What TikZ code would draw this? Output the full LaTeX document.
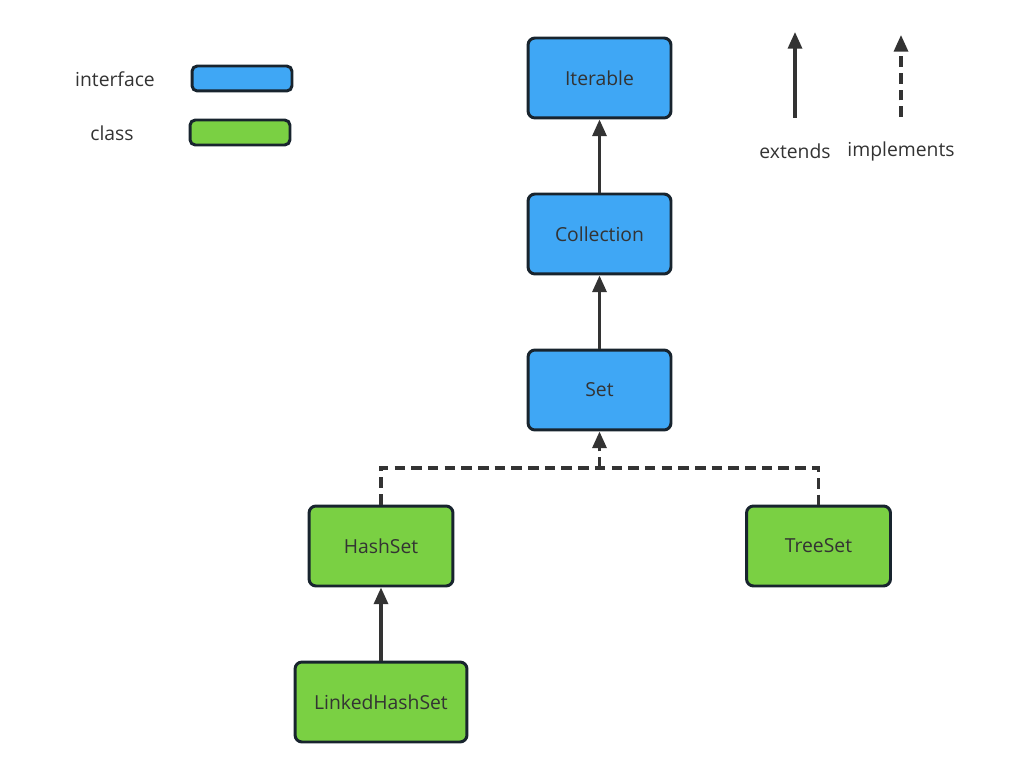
\documentclass[tikz,border=0pt]{standalone}
\usepackage{fontspec}
\setmainfont{Open Sans}
\usepackage{tikz}
\usetikzlibrary{arrows.meta}

\definecolor{ifblue}{HTML}{3FA7F5}
\definecolor{clgreen}{HTML}{7AD043}
\definecolor{edge}{HTML}{18242E}
\definecolor{linec}{HTML}{333333}

\begin{document}
\begin{tikzpicture}[x=0.02cm,y=-0.02cm,
  box/.style={draw=edge, line width=1.7pt, rounded corners=4pt, minimum height=1.6cm,
    font=\fontsize{11}{13}\selectfont, text=linec},
  iface/.style={box, fill=ifblue, minimum width=2.86cm},
  klass/.style={box, fill=clgreen, minimum width=2.88cm},
  legbox/.style={draw=edge, line width=1.7pt, rounded corners=3pt, minimum width=2cm, minimum height=0.5cm},
  ext/.style={draw=linec, line width=1.8pt, -{Triangle[length=9.5pt,width=8pt]}},
  impl/.style={ext, dash pattern=on 6pt off 3.5pt},
  lbl/.style={font=\fontsize{11}{13}\selectfont, text=linec}]
\useasboundingbox (0,0) rectangle (1014,780);
% legend
\node[lbl] (lif) at (115,79) {interface};
\node[legbox, fill=ifblue] (kif) at (242,78.5) {};
\node[lbl] (lcl) at (112,133) {class};
\node[legbox, fill=clgreen] (kcl) at (240,132.5) {};
\coordinate (e0) at (795,118);
\coordinate (e1) at (795,32);
\coordinate (i0) at (901,117);
\coordinate (i1) at (901,35);
\draw[ext] (e0) -- (e1);
\draw[impl] (i0) -- (i1);
\node[lbl] (lext) at (795,151) {extends};
\node[lbl] (limp) at (901,151) {implements};
% interfaces
\node[iface] (iter) at (599.5,78) {Iterable};
\node[iface] (coll) at (599.5,234) {Collection};
\node[iface] (set) at (599.5,390) {Set};
% classes
\node[klass] (hs) at (381,546) {HashSet};
\node[klass] (ts) at (818.5,546) {TreeSet};
\node[klass, minimum width=3.44cm] (lhs) at (381,702) {LinkedHashSet};
% edges
\draw[ext] (coll) -- (iter);
\draw[ext] (set) -- (coll);
\draw[ext] (lhs) -- (hs);
\coordinate (j) at (599.5,468);
\draw[impl, -] (hs.north) |- (j) -| (ts.north);
\draw[impl] (j) -- (set.south);
\end{tikzpicture}
\end{document}
